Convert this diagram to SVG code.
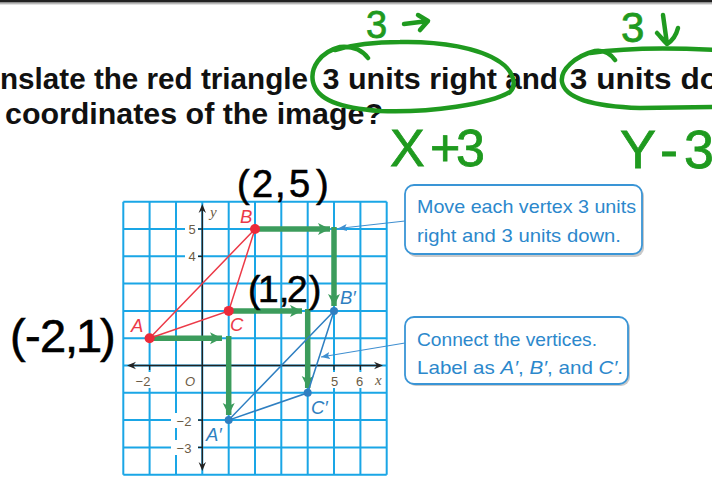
<svg xmlns="http://www.w3.org/2000/svg" width="712" height="477" viewBox="0 0 712 477">
<style>
.title{font-family:"Liberation Sans",Arial,sans-serif;font-weight:bold;font-size:30px;fill:#111}
.grid{stroke:#1aa6e6;stroke-width:2;fill:none}
.axis{stroke:#222;stroke-width:1.4;fill:none}
.tick{font-family:"Liberation Sans",Arial,sans-serif;font-size:13px;fill:#6b5b45;text-anchor:middle}
.var{font-family:"Liberation Serif","Times New Roman",serif;font-style:italic;font-size:15px;fill:#6b5b45}
.lblR{font-family:"Liberation Sans",Arial,sans-serif;font-style:italic;font-size:18.5px;fill:#ec3a48}
.lblB{font-family:"Liberation Sans",Arial,sans-serif;font-style:italic;font-size:18.5px;fill:#2f7fc1}
.green{stroke:#3c9c5c;stroke-width:5.5;fill:none}
.box{fill:#fff;stroke:#3a95d6;stroke-width:1.8}
.shadow{fill:#c9c9c9}
.btxt{font-family:"Liberation Sans",Arial,sans-serif;font-size:18.5px;fill:#2c88cc}
.lead{stroke:#3f8fd0;stroke-width:1.1;fill:none}
.hg{font-family:"Liberation Sans",Arial,sans-serif;fill:#1f9a1f;stroke:#1f9a1f;stroke-width:0.8}
.hk{font-family:"Liberation Sans",Arial,sans-serif;fill:#000;stroke:#000;stroke-width:0.6}
.gs{stroke:#1f9a1f;stroke-width:4.5;fill:none;stroke-linecap:round;stroke-linejoin:round}
</style>
<defs>
<marker id="gArrow" markerUnits="userSpaceOnUse" markerWidth="14" markerHeight="14" refX="12" refY="6" orient="auto">
<path d="M0,0 L12,6 L0,12 L3,6 z" fill="#3c9c5c"/>
</marker>
<marker id="bArrow" markerUnits="userSpaceOnUse" markerWidth="10" markerHeight="8" refX="9" refY="4" orient="auto">
<path d="M0,0.5 L9,4 L0,7.5 L2,4 z" fill="#3f8fd0"/>
</marker>
</defs>
<rect width="712" height="477" fill="#fff"/>
<rect x="0" y="0" width="712" height="2.5" fill="#222"/>
<line x1="0" y1="3.8" x2="712" y2="3.8" stroke="#9a9a9a" stroke-width="1"/>

<g id="title">
<text class="title" y="89"><tspan x="0" textLength="308" lengthAdjust="spacingAndGlyphs">nslate the red triangle</tspan><tspan x="314" textLength="183" lengthAdjust="spacingAndGlyphs"> 3 units right</tspan><tspan x="497" textLength="61" lengthAdjust="spacingAndGlyphs"> and</tspan><tspan x="561" textLength="158" lengthAdjust="spacingAndGlyphs"> 3 units do</tspan></text>
<text class="title" x="5" y="123.5" textLength="378" lengthAdjust="spacingAndGlyphs">coordinates of the image?</text>
</g>

<g id="graph">
<path class="grid" d="M123.3,201.7V474.7 M149.6,201.7V474.7 M176,201.7V474.7 M202.3,201.7V474.7 M228.7,201.7V474.7 M255,201.7V474.7 M281.3,201.7V474.7 M307.7,201.7V474.7 M334,201.7V474.7 M360.4,201.7V474.7 M386.7,201.7V474.7 M123.3,201.7H386.7 M123.3,229H386.7 M123.3,256.3H386.7 M123.3,283.6H386.7 M123.3,310.9H386.7 M123.3,338.2H386.7 M123.3,365.5H386.7 M123.3,392.8H386.7 M123.3,420.1H386.7 M123.3,447.4H386.7 M123.3,474.7H386.7"/>
<g fill="#fff">
<rect x="185" y="222" width="13" height="14"/>
<rect x="185" y="249" width="13" height="14"/>
<rect x="171" y="413" width="27" height="15"/>
<rect x="171" y="440" width="27" height="15"/>
<rect x="131" y="372" width="24" height="16"/>
<rect x="183" y="372" width="14" height="16"/>
<rect x="328" y="372" width="13" height="16"/>
<rect x="353" y="372" width="13" height="16"/>
<rect x="373" y="372" width="11" height="16"/>
<rect x="208" y="204" width="13" height="16"/>
</g>
<path class="axis" d="M130,365.5H380 M202.3,208V467"/>
<path d="M127,365.5 L136,361.8 L133,365.5 L136,369.2 z M383,365.5 L374,361.8 L377,365.5 L374,369.2 z M202.3,204 L198.6,213 L202.3,210 L206,213 z M202.3,471 L198.6,462 L202.3,465 L206,462 z" fill="#222"/>
<path d="M198,229H202.3 M198,256.3H202.3 M198,420.1H202.3 M198,447.4H202.3 M149.6,365.5V370 M334,365.5V370 M360.4,365.5V370" stroke="#222" stroke-width="1.2"/>
<text class="tick" x="192" y="234">5</text>
<text class="tick" x="192" y="261">4</text>
<text class="tick" x="184" y="425.5">−2</text>
<text class="tick" x="184" y="452.5">−3</text>
<text class="tick" x="143" y="385.5">−2</text>
<text class="tick" x="190" y="385.5" font-style="italic">O</text>
<text class="tick" x="334.5" y="385.5">5</text>
<text class="tick" x="359.5" y="385.5">6</text>
<text class="var" x="375" y="385">x</text>
<text class="var" x="210" y="217">y</text>
</g>

<g id="connectors">
<path class="green" d="M149.6,338.2H222" marker-end="url(#gArrow)"/>
<path class="green" d="M228.7,336V415" marker-end="url(#gArrow)"/>
<path class="green" d="M255,229H330" marker-end="url(#gArrow)"/>
<path class="green" d="M334,227V306" marker-end="url(#gArrow)"/>
<path class="green" d="M228.7,310.9H302" marker-end="url(#gArrow)"/>
<path class="green" d="M307.7,309V388" marker-end="url(#gArrow)"/>
<path class="lead" d="M405,221 L338,228.5" marker-end="url(#bArrow)"/>
<path class="lead" d="M405,343 L321,357" marker-end="url(#bArrow)"/>
</g>

<g id="triangle-ABC">
<path d="M149.6,338.2 L255,229 L228.7,310.9 Z" fill="none" stroke="#ec3a48" stroke-width="1.5"/>
<circle cx="149.6" cy="338.2" r="5" fill="#ec2a3a"/>
<circle cx="255" cy="229" r="5" fill="#ec2a3a"/>
<circle cx="228.7" cy="310.9" r="5" fill="#ec2a3a"/>
<text class="lblR" x="131" y="332">A</text>
<text class="lblR" x="240" y="223">B</text>
<text class="lblR" x="230" y="331">C</text>
</g>

<g id="triangle-A1B1C1">
<path d="M228.7,420.1 L334,310.9 L307.7,392.8 Z" fill="none" stroke="#2f7fc1" stroke-width="1.5"/>
<circle cx="228.7" cy="420.1" r="4" fill="#2f7fc1"/>
<circle cx="334" cy="310.9" r="4" fill="#2f7fc1"/>
<circle cx="307.7" cy="392.8" r="4" fill="#2f7fc1"/>
<text class="lblB" x="206" y="441">A′</text>
<text class="lblB" x="340" y="304">B′</text>
<text class="lblB" x="311" y="414">C′</text>
</g>

<g id="callout-move">
<rect class="shadow" x="407" y="187" width="237" height="70" rx="9"/>
<rect class="box" x="405" y="185" width="237" height="69" rx="9"/>
<text class="btxt" x="417" y="213" textLength="219" lengthAdjust="spacingAndGlyphs">Move each vertex 3 units</text>
<text class="btxt" x="417" y="242" textLength="204" lengthAdjust="spacingAndGlyphs">right and 3 units down.</text>
</g>

<g id="callout-connect">
<rect class="shadow" x="407" y="319" width="223" height="67" rx="9"/>
<rect class="box" x="405" y="317" width="223" height="67" rx="9"/>
<text class="btxt" x="417" y="345.5" textLength="180" lengthAdjust="spacingAndGlyphs">Connect the vertices.</text>
<text class="btxt" x="417" y="374" textLength="206" lengthAdjust="spacingAndGlyphs">Label as <tspan font-style="italic">A′</tspan>, <tspan font-style="italic">B′</tspan>, and <tspan font-style="italic">C′</tspan>.</text>
</g>

<g id="annotations">
<path class="gs" d="M368,58 C362,50 352,46 340,47 C320,52 310,68 313,82 C317,100 340,108 380,111 C430,113 490,104 510,92 C518,84 512,70 500,62 C480,48 440,41 400,42 C380,42 355,44 335,50"/>
<path class="gs" d="M615,60 C610,53 603,50 595,51 C575,56 560,70 562,82 C565,98 590,106 640,108 L716,107 M590,53 C630,47 680,48 716,50"/>
<text class="hg" x="366" y="38" font-size="38">3</text>
<path class="gs" d="M404,24 L428,21 M418,15 L428,21 L420,30"/>
<text class="hg" x="621" y="42" font-size="42">3</text>
<path class="gs" d="M663,15 L667,44 M678,28 C676,36 672,41 667,44 C663,40 660,36 657,33"/>
<text class="hg" x="390 430 456" y="166" font-size="52">X+3</text>
<text class="hg" x="620 660 684" y="168" font-size="54">Y-3</text>
<text class="hk" x="237 252 275 289 316" y="197" font-size="38">(2,5)</text>
<text class="hk" x="248 258 279 287 309" y="302" font-size="37">(1,2)</text>
<text class="hk" x="10 25 40 65 76 100" y="352" font-size="47">(-2,1)</text>
</g>
</svg>
